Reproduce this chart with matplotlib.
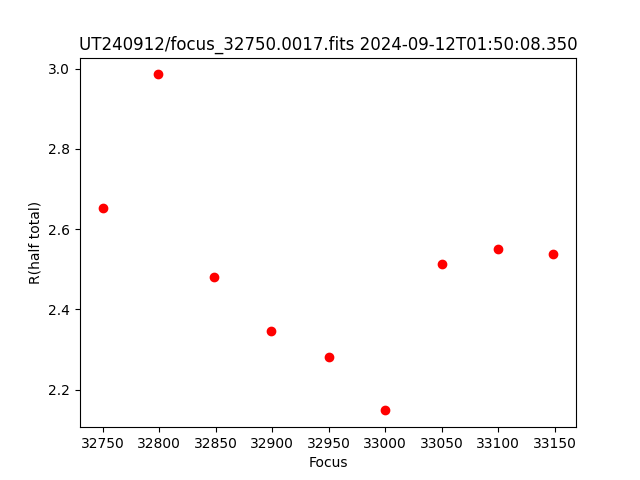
import matplotlib
matplotlib.use("Agg")
import matplotlib.pyplot as plt

focus = [32750, 32799, 32849, 32899, 32950, 33000, 33050, 33100, 33149]
r_half = [2.652, 2.986, 2.480, 2.347, 2.282, 2.148, 2.512, 2.550, 2.537]

title = "UT240912/focus_32750.0017.fits 2024-09-12T01:50:08.350"

fig = plt.figure(figsize=(6.4, 4.8), dpi=100)
plt.plot(focus, r_half, "ro")
plt.xlabel("Focus")
plt.ylabel("R(half total)")
plt.title(title)
plt.savefig("out.png")
